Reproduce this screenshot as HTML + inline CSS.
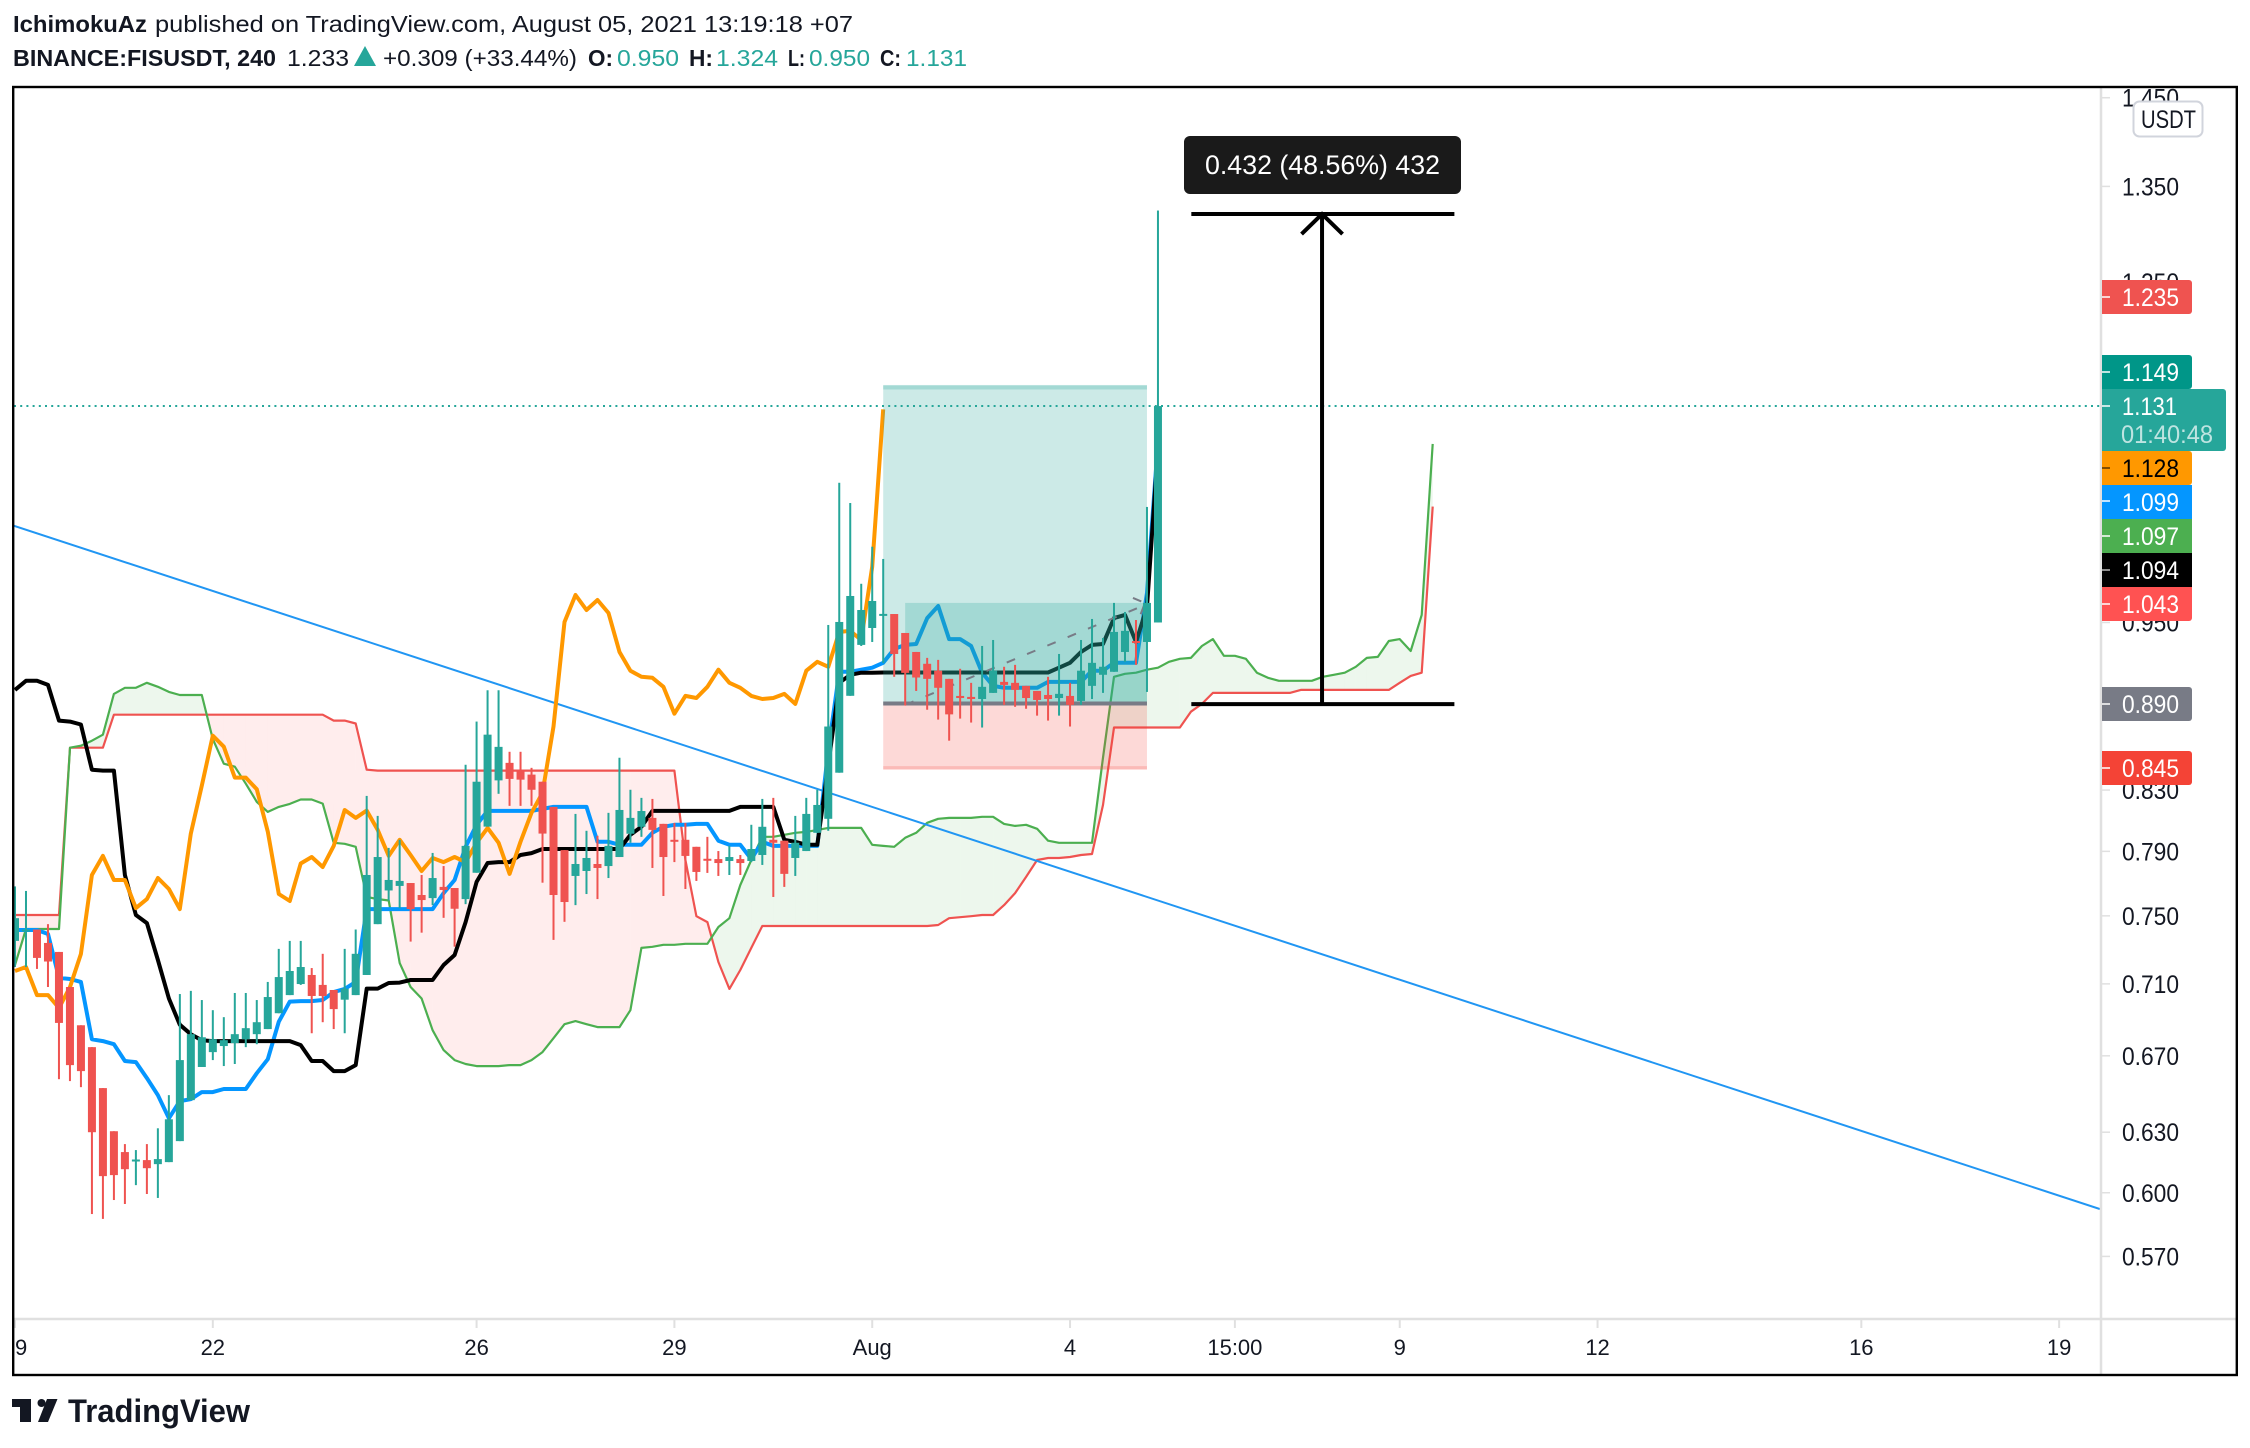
<!DOCTYPE html>
<html lang="en">
<head>
<meta charset="utf-8">
<title>BINANCE:FISUSDT 240 chart</title>
<style>
html,body{margin:0;padding:0;background:#fff;width:2250px;height:1448px;overflow:hidden}
svg{display:block;font-family:"Liberation Sans",sans-serif}
</style>
</head>
<body>
<svg id="root" xmlns="http://www.w3.org/2000/svg" width="2250" height="1448" viewBox="0 0 2250 1448">
<defs><clipPath id="plot-clip"><rect x="14" y="88" width="2086" height="1231"/></clipPath></defs>
<rect x="0" y="0" width="2250" height="1448" fill="#fff"/>

<g font-size="23" fill="#131722">
<text x="13" y="32" font-weight="bold" textLength="134" lengthAdjust="spacingAndGlyphs">IchimokuAz</text>
<text x="155" y="32" textLength="698" lengthAdjust="spacingAndGlyphs">published on TradingView.com, August 05, 2021 13:19:18 +07</text>
</g>
<g font-size="23" fill="#131722">
<text x="13" y="66" font-weight="bold" textLength="263" lengthAdjust="spacingAndGlyphs">BINANCE:FISUSDT, 240</text>
<text x="287" y="66" textLength="62" lengthAdjust="spacingAndGlyphs">1.233</text>
<polygon points="354,66 365,46 376,66" fill="#26a69a"/>
<text x="383" y="66" textLength="194" lengthAdjust="spacingAndGlyphs">+0.309 (+33.44%)</text>
<text x="588" y="66" font-weight="bold" textLength="25" lengthAdjust="spacingAndGlyphs">O:</text>
<text x="617" y="66" fill="#26a69a" textLength="62" lengthAdjust="spacingAndGlyphs">0.950</text>
<text x="689" y="66" font-weight="bold" textLength="24" lengthAdjust="spacingAndGlyphs">H:</text>
<text x="716" y="66" fill="#26a69a" textLength="62" lengthAdjust="spacingAndGlyphs">1.324</text>
<text x="788" y="66" font-weight="bold" textLength="17" lengthAdjust="spacingAndGlyphs">L:</text>
<text x="809" y="66" fill="#26a69a" textLength="61" lengthAdjust="spacingAndGlyphs">0.950</text>
<text x="880" y="66" font-weight="bold" textLength="21" lengthAdjust="spacingAndGlyphs">C:</text>
<text x="906" y="66" fill="#26a69a" textLength="61" lengthAdjust="spacingAndGlyphs">1.131</text>
</g>

<g id="plot" clip-path="url(#plot-clip)"></g>

<line x1="2101" y1="88" x2="2101" y2="1374" stroke="#e0e0e0" stroke-width="2.5"/>
<line x1="14" y1="1319" x2="2236" y2="1319" stroke="#e0e0e0" stroke-width="2.5"/>
<g id="price-axis"></g>
<g id="time-axis"></g>

<g font-size="25" fill="#fff">
<g><path d="M2102 280h87a3 3 0 0 1 3 3v28a3 3 0 0 1-3 3h-87z" fill="#ef5350"/><line x1="2102" y1="297" x2="2110" y2="297" stroke="#fff" stroke-width="1.5"/><text x="2122" y="306" textLength="57" lengthAdjust="spacingAndGlyphs">1.235</text></g>
<g><path d="M2102 355h87a3 3 0 0 1 3 3v28a3 3 0 0 1-3 3h-87z" fill="#009688"/><line x1="2102" y1="372" x2="2110" y2="372" stroke="#fff" stroke-width="1.5"/><text x="2122" y="381" textLength="57" lengthAdjust="spacingAndGlyphs">1.149</text></g>
<g><path d="M2102 389h121a3 3 0 0 1 3 3v56a3 3 0 0 1-3 3h-121z" fill="#26a69a"/><line x1="2102" y1="406" x2="2110" y2="406" stroke="#fff" stroke-width="1.5"/><text x="2122" y="415" textLength="55" lengthAdjust="spacingAndGlyphs">1.131</text><text x="2121" y="443" fill="#fff" fill-opacity="0.7" textLength="92" lengthAdjust="spacingAndGlyphs">01:40:48</text></g>
<g><path d="M2102 451h87a3 3 0 0 1 3 3v28a3 3 0 0 1-3 3h-87z" fill="#ff9800"/><line x1="2102" y1="468" x2="2110" y2="468" stroke="#5a3600" stroke-width="1.5"/><text x="2122" y="477" fill="#000" textLength="57" lengthAdjust="spacingAndGlyphs">1.128</text></g>
<g><rect x="2102" y="485" width="90" height="34" fill="#0496ff"/><line x1="2102" y1="501" x2="2110" y2="501" stroke="#fff" stroke-width="1.5"/><text x="2122" y="511" textLength="57" lengthAdjust="spacingAndGlyphs">1.099</text></g>
<g><rect x="2102" y="519" width="90" height="34" fill="#4caf50"/><line x1="2102" y1="536" x2="2110" y2="536" stroke="#fff" stroke-width="1.5"/><text x="2122" y="545" textLength="57" lengthAdjust="spacingAndGlyphs">1.097</text></g>
<g><rect x="2102" y="553" width="90" height="34" fill="#000"/><line x1="2102" y1="570" x2="2110" y2="570" stroke="#bbb" stroke-width="1.5"/><text x="2122" y="579" textLength="57" lengthAdjust="spacingAndGlyphs">1.094</text></g>
<g><path d="M2102 587h90v31a3 3 0 0 1-3 3h-87z" fill="#ff5252"/><line x1="2102" y1="604" x2="2110" y2="604" stroke="#fff" stroke-width="1.5"/><text x="2122" y="613" textLength="57" lengthAdjust="spacingAndGlyphs">1.043</text></g>
<g><path d="M2102 687h87a3 3 0 0 1 3 3v28a3 3 0 0 1-3 3h-87z" fill="#787b86"/><line x1="2102" y1="704" x2="2110" y2="704" stroke="#fff" stroke-width="1.5"/><text x="2122" y="713" textLength="57" lengthAdjust="spacingAndGlyphs">0.890</text></g>
<g><path d="M2102 751h87a3 3 0 0 1 3 3v28a3 3 0 0 1-3 3h-87z" fill="#f44336"/><line x1="2102" y1="768" x2="2110" y2="768" stroke="#fff" stroke-width="1.5"/><text x="2122" y="777" textLength="57" lengthAdjust="spacingAndGlyphs">0.845</text></g>
</g>

<g>
<rect x="2133.5" y="101.5" width="69" height="35" rx="6" fill="#fff" stroke="#d1d4dc" stroke-width="2"/>
<text x="2141" y="128" font-size="25" fill="#131722" textLength="55" lengthAdjust="spacingAndGlyphs">USDT</text>
</g>

<g>
<rect x="1184" y="136" width="277" height="58" rx="6" fill="#1a1a1a"/>
<text x="1205" y="174" font-size="27" fill="#fff" textLength="235" lengthAdjust="spacingAndGlyphs">0.432 (48.56%) 432</text>
</g>

<rect x="13.2" y="87" width="2223.6" height="1288" fill="none" stroke="#000" stroke-width="2.4"/>

<g fill="#131722">
<path d="M12 1399h19v23h-11v-15h-8z"/>
<circle cx="41.5" cy="1403" r="4"/>
<polygon points="47,1399 57.5,1399 48,1422 38,1422"/>
<text x="68" y="1422" font-size="32" font-weight="bold" textLength="182" lengthAdjust="spacingAndGlyphs">TradingView</text>
</g>
</svg>

<script>
const opens = [
.7350,.7412,.7418,.7338,.7285,.7082,.6867,.6747,.6528,.6305,
.6200,.6153,.6160,.6140,.6150,.6255,.6465,.6640,.6720,.6753,
.6769,.6790,.6818,.6846,.6934,.7036,.7099,.7151,.7094,.7065,
.7010,.7036,.7151,.7450,.7655,.7683,.7701,.7627,.7608,.7677,
.7670,.7602,.7765,.8059,.8365,.8484,.8430,.8404,.8356,.8188,
.7908,.7745,.7776,.7820,.7807,.7864,.8013,.8058,.8116,.8077,
.7974,.7974,.7929,.7853,.7851,.7839,.7851,.7839,.7877,.7974,
.7968,.7858,.7902,.8019,.8110,.8417,.8955,.9330,.9458,.9558,
.9565,.9420,.9277,.9189,.9138,.9078,.8954,.8947,.8932,.8976,
.9056,.9049,.9027,.8990,.8961,.8939,.8954,.8918,.9027,.9108,.9130,.9277,.9359,.9352,.950];
const highs = [
.7680,.7652,.7418,.7450,.7285,.7082,.6867,.6747,.6528,.6305,
.6240,.6210,.6240,.6320,.6491,.7042,.7060,.7008,.6951,.6912,
.7048,.7048,.7008,.7111,.7303,.7350,.7350,.7191,.7274,.7065,
.7303,.7418,.8261,.8129,.7922,.7974,.7701,.7751,.7890,.7807,
.7670,.8471,.8771,.8995,.8995,.8560,.8560,.8450,.8356,.8188,
.7908,.8142,.8032,.8000,.8149,.8519,.8302,.8248,.8241,.8077,
.8083,.8083,.7929,.7993,.7902,.7935,.7877,.8071,.8241,.8248,
.7968,.8129,.8248,.8302,.9481,1.0632,1.0460,.9801,1.0098,.9999,
.9565,.9420,.9277,.9233,.9218,.9078,.9152,.9049,.9322,.9367,
.9167,.9181,.9027,.8990,.9093,.9262,.9049,.9367,.9527,.9382,.9651,.9581,.9519,1.0427,1.324];
const lows = [
.7197,.7197,.7186,.7082,.6575,.6565,.6533,.5898,.5875,.5965,
.5946,.6037,.5994,.5975,.6150,.6255,.6465,.6640,.6677,.6645,
.6656,.6747,.6763,.6846,.6934,.7036,.7094,.6823,.6884,.6846,
.6823,.7036,.7151,.7450,.7593,.7547,.7346,.7399,.7565,.7488,
.7316,.7571,.7765,.8059,.8275,.8195,.8195,.8195,.7703,.7356,
.7464,.7565,.7633,.7602,.7732,.7864,.7955,.7993,.7795,.7621,
.7832,.7664,.7714,.7764,.7745,.7751,.7751,.7832,.7814,.7615,
.7677,.7745,.7902,.8019,.8032,.8417,.8955,.9322,.9352,.9196,
.9093,.8885,.8990,.8855,.8785,.8637,.8792,.8764,.8729,.8976,
.8890,.8876,.8862,.8813,.8778,.8813,.8736,.8890,.8932,.8976,.9130,.9204,.9181,.8983,.950];
const closes = [
.7486,.7418,.7250,.7229,.6880,.6650,.6618,.6300,.6081,.6086,
.6115,.6163,.6120,.6165,.6366,.6677,.6818,.6801,.6790,.6785,
.6818,.6851,.6884,.7025,.7139,.7174,.7197,.7031,.7031,.6957,
.7073,.7274,.7751,.7864,.7720,.7714,.7541,.7596,.7732,.7658,
.7543,.7935,.8356,.8679,.8594,.8375,.8370,.8302,.8014,.7627,
.7584,.7820,.7858,.7795,.7935,.8168,.8116,.8161,.8038,.7864,
.7968,.7871,.7770,.7845,.7826,.7864,.7826,.7915,.8058,.7955,
.7758,.7955,.8142,.8201,.8736,.9504,.9705,.9596,.9666,.9566,
.9262,.9122,.9088,.9078,.9013,.8822,.8939,.8932,.9020,.9138,
.9034,.8998,.8939,.8925,.8932,.8969,.8890,.9138,.9196,.9167,.9428,.9436,.9345,.9651,1.131];
const conversionLine = [
.7415,.7415,.7415,.7391,.7134,.7128,.7111,.6790,.6780,.6763,
.6672,.6666,.6581,.6491,.6371,.6460,.6470,.6507,.6507,.6523,
.6523,.6523,.6607,.6682,.6887,.6999,.7002,.7002,.7008,.7053,
.7071,.7111,.7541,.7541,.7541,.7541,.7541,.7541,.7541,.7639,
.7720,.7929,.8071,.8162,.8162,.8162,.8162,.8162,.8175,.8188,
.8188,.8188,.8188,.7961,.7961,.7942,.7942,.7942,.8019,.8058,
.8071,.8071,.8077,.8077,.7968,.7942,.7942,.7851,.7961,.7935,
.7935,.7935,.7935,.7935,.8572,.9130,.9130,.9145,.9160,.9196,
.9299,.9330,.9337,.9534,.9627,.9374,.9374,.9322,.9123,.9027,
.9013,.9013,.9013,.9013,.9056,.9056,.9056,.9056,.9138,.9138,
.9196,.9196,.9196,.9729,1.099];
const baseLine = [
.8998,.9064,.9064,.9034,.8778,.8771,.8750,.8437,.8431,.8431,
.7751,.7505,.7456,.7238,.7017,.6870,.6818,.6785,.6780,.6780,
.6780,.6780,.6780,.6780,.6780,.6780,.6758,.6672,.6672,.6618,
.6618,.6650,.7073,.7073,.7105,.7107,.7122,.7122,.7122,.7209,
.7267,.7462,.7708,.7826,.7832,.7832,.7877,.7889,.7915,.7915,
.7915,.7915,.7915,.7915,.7915,.7915,.8006,.8058,.8162,.8162,
.8162,.8162,.8162,.8162,.8162,.8162,.8188,.8188,.8188,.8188,
.7974,.7961,.7942,.7942,.8471,.9049,.9108,.9123,.9123,.9125,
.9125,.9125,.9125,.9125,.9125,.9125,.9125,.9125,.9125,.9125,
.9125,.9125,.9125,.9125,.9125,.9160,.9196,.9277,.9330,.9337,
.9534,.9558,.9352,.9619,1.094];
const laggingSpan = [
.7174,.7197,.7036,.7036,.6963,.7082,.7273,.7751,.7871,.7720,
.7720,.7547,.7602,.7732,.7664,.7541,.8013,.8329,.8672,.8595,
.8384,.8384,.8305,.8026,.7633,.7590,.7823,.7864,.7801,.7935,
.8168,.8116,.8164,.8038,.7871,.7974,.7877,.7776,.7858,.7832,
.7864,.7832,.7955,.8051,.7955,.7758,.7961,.8149,.8282,.8736,
.9504,.9713,.9596,.9674,.9573,.9277,.9138,.9093,.9086,.9020,
.8827,.8954,.8939,.9020,.9145,.9049,.9013,.8954,.8932,.8939,
.8969,.8897,.9138,.9204,.9167,.9428,.9436,.9367,.9936,1.128];
const leadA = [
.7209,.7421,.7421,.7421,.7421,.8588,.8602,.8637,.8679,.8969,
.9013,.9013,.9049,.9020,.8983,.8961,.8961,.8961,.8648,.8478,
.8458,.8343,.8221,.8155,.8188,.8208,.8237,.8237,.8210,.7955,
.7948,.7929,.7615,.7602,.7593,.7220,.7082,.7017,.6840,.6731,
.6677,.6656,.6645,.6645,.6645,.6650,.6650,.6677,.6720,.6796,
.6873,.6890,.6873,.6857,.6857,.6857,.6951,.7309,.7315,.7327,
.7327,.7333,.7333,.7333,.7433,.7486,.7689,.7845,.7993,.7993,
.8006,.8019,.8025,.8038,.8051,.8051,.8051,.8051,.7942,.7935,
.7929,.7987,.8019,.8084,.8110,.8116,.8116,.8116,.8123,.8123,
.8077,.8064,.8071,.8045,.7968,.7955,.7955,.7955,.7955,.8519,
.9093,.9115,.9123,.9145,.9160,.9204,.9226,.9233,.9322,.9374,
.9248,.9248,.9226,.9123,.9086,.9064,.9064,.9064,.9064,.9093,
.9108,.9123,.9167,.9233,.9240,.9359,.9374,.9284,.9558,1.097];
const leadB = [
.7505,.7505,.7505,.7505,.7505,.8588,.8588,.8588,.8588,.8820,
.8820,.8820,.8820,.8820,.8820,.8820,.8820,.8820,.8820,.8820,
.8820,.8820,.8820,.8820,.8820,.8820,.8820,.8820,.8820,.8778,
.8778,.8757,.8437,.8431,.8431,.8431,.8431,.8431,.8431,.8431,
.8431,.8431,.8431,.8431,.8431,.8431,.8431,.8431,.8431,.8431,
.8431,.8431,.8431,.8431,.8431,.8431,.8431,.8431,.8431,.8431,
.8431,.7845,.7498,.7462,.7226,.7071,.7180,.7309,.7439,.7439,
.7439,.7439,.7439,.7439,.7439,.7439,.7439,.7439,.7439,.7439,
.7439,.7439,.7439,.7439,.7445,.7486,.7492,.7498,.7505,.7505,
.7565,.7639,.7739,.7845,.7858,.7858,.7864,.7877,.7883,.8201,
.8729,.8729,.8729,.8729,.8729,.8729,.8729,.8841,.8897,.8976,
.8976,.8976,.8976,.8976,.8976,.8976,.8976,.8998,.8998,.8998,
.8998,.8998,.8998,.8998,.8998,.8998,.9049,.9100,.9123,1.043];
const priceTicks = [1.45,1.35,1.25,0.95,0.83,0.79,0.75,0.71,0.67,0.63,0.60,0.57];
const timeTickBars = [0,18,42,60,78,96,111,126,144,168,186];
const timeTickLabels = ["9","22","26","29","Aug","4","15:00","9","12","16","19"];
const trendBars = [-0.18,189.7];
const trendPrices = [1.0272,0.5922];
const lastClose = 1.131;
const positionBars = [79,103];
const positionEntry = 0.890;
const positionTarget = 1.149;
const positionStop = 0.845;
const projectionBars = [81,103];
const projectionPrices = [0.8890,0.9635];
const measureBars = [107,118.93,131];
const measurePrices = [0.8895,1.3203];

const SVGNS = "http://www.w3.org/2000/svg";
const xOf = i => 15 + 10.99 * i;
const yOf = p => 186.4 + 1241 * Math.log(1.35 / p);
const mk = (parent, tag, attrs) => {
  const e = document.createElementNS(SVGNS, tag);
  for (const k in attrs) e.setAttribute(k, attrs[k]);
  parent.appendChild(e);
  return e;
};
const plot = document.getElementById("plot");
const pts = arr => arr.map((p, i) => xOf(i).toFixed(1) + "," + yOf(p).toFixed(1)).join(" ");

/* cloud */
const cloud = mk(plot, "g", {});


const GREENFILL = "rgba(76,175,80,0.1)", REDFILL = "rgba(255,82,82,0.1)";
for (let i = 0; i < leadA.length - 1; i++) {
  const x0 = xOf(i), x1 = xOf(i + 1);
  const a0 = yOf(leadA[i]), a1 = yOf(leadA[i + 1]), b0 = yOf(leadB[i]), b1 = yOf(leadB[i + 1]);
  const d0 = b0 - a0, d1 = b1 - a1;
  if (d0 * d1 >= 0) {
    const seg = mk(cloud, "polygon", {points: `${x0},${a0} ${x1},${a1} ${x1},${b1} ${x0},${b0}`, fill: (d0 + d1) >= 0 ? GREENFILL : REDFILL});
    
    
  } else {
    const t = d0 / (d0 - d1), xc = x0 + t * (x1 - x0), yc = a0 + t * (a1 - a0);
    const s1 = mk(cloud, "polygon", {points: `${x0},${a0} ${xc},${yc} ${x0},${b0}`, fill: d0 > 0 ? GREENFILL : REDFILL});
    
    
    const s2 = mk(cloud, "polygon", {points: `${xc},${yc} ${x1},${a1} ${x1},${b1}`, fill: d1 > 0 ? GREENFILL : REDFILL});
    
    
  }
}

/* lines */
const leadBLine = mk(plot, "polyline", {points: pts(leadB), fill: "none", stroke: "#ef5350", "stroke-width": 2.2, "stroke-linejoin": "round"});


const leadALine = mk(plot, "polyline", {points: pts(leadA), fill: "none", stroke: "#4caf50", "stroke-width": 2.2, "stroke-linejoin": "round"});


const trend = mk(plot, "line", {x1: xOf(trendBars[0]), y1: yOf(trendPrices[0]), x2: xOf(trendBars[1]), y2: yOf(trendPrices[1]), stroke: "#2196f3", "stroke-width": 2});


const convLine = mk(plot, "polyline", {points: pts(conversionLine), fill: "none", stroke: "#0496ff", "stroke-width": 4, "stroke-linejoin": "round"});


const bLine = mk(plot, "polyline", {points: pts(baseLine), fill: "none", stroke: "#000", "stroke-width": 4, "stroke-linejoin": "round"});


const lagLine = mk(plot, "polyline", {points: pts(laggingSpan), fill: "none", stroke: "#ff9800", "stroke-width": 4, "stroke-linejoin": "round"});



/* current price line */
const lastLine = mk(plot, "line", {x1: 14, x2: 2100, y1: yOf(lastClose), y2: yOf(lastClose), stroke: "#26a69a", "stroke-width": 2, "stroke-dasharray": "2 4.2"});



/* long position tool */
const pos = mk(plot, "g", {});


const pL = xOf(positionBars[0]), pR = xOf(positionBars[1]), pW = pR - pL;
const profit = mk(pos, "rect", {x: pL, y: yOf(positionTarget) - 1.5, width: pW, height: yOf(positionEntry) - yOf(positionTarget) + 1.5, fill: "rgba(38,166,154,0.235)"});


const loss = mk(pos, "rect", {x: pL, y: yOf(positionEntry), width: pW, height: yOf(positionStop) - yOf(positionEntry) + 1.5, fill: "rgba(244,67,54,0.2)"});


const tLine = mk(pos, "line", {x1: pL, x2: pR, y1: yOf(positionTarget) + 1, y2: yOf(positionTarget) + 1, stroke: "rgba(38,166,154,0.25)", "stroke-width": 4});


const sLine = mk(pos, "line", {x1: pL, x2: pR, y1: yOf(positionStop), y2: yOf(positionStop), stroke: "rgba(244,67,54,0.2)", "stroke-width": 3.5});


const inner = mk(pos, "rect", {x: xOf(projectionBars[0]), y: yOf(0.9651), width: xOf(projectionBars[1]) - xOf(projectionBars[0]), height: yOf(positionEntry) - yOf(0.9651), fill: "rgba(38,166,154,0.25)"});


const eLine = mk(pos, "line", {x1: pL, x2: pR, y1: yOf(positionEntry), y2: yOf(positionEntry), stroke: "#787b86", "stroke-width": 4});


const projX1 = xOf(projectionBars[1]) - 2, projY1 = yOf(projectionPrices[1]);
const proj = mk(pos, "line", {x1: xOf(projectionBars[0]), y1: yOf(projectionPrices[0]), x2: projX1, y2: projY1, stroke: "#787b86", "stroke-width": 2, "stroke-dasharray": "9 13"});


const projHead = mk(pos, "polyline", {points: `${projX1 - 12},${projY1 - 7} ${projX1},${projY1 - 2} ${projX1 - 5},${projY1 + 11}`, fill: "none", stroke: "#787b86", "stroke-width": 2, "stroke-dasharray": "9 7"});



/* candles */
const candles = mk(plot, "g", {});


for (let i = 0; i < closes.length; i++) {
  const up = closes[i] >= opens[i];
  const col = up ? "#26a69a" : "#ef5350";
  const x = xOf(i);
  const wick = mk(candles, "rect", {x: x - 1, y: yOf(highs[i]), width: 2, height: Math.max(1, yOf(lows[i]) - yOf(highs[i])), fill: col});
  
  
  const top = yOf(Math.max(opens[i], closes[i])), bot = yOf(Math.min(opens[i], closes[i]));
  const body = mk(candles, "rect", {x: x - 4, y: top, width: 8, height: Math.max(2, bot - top), fill: col});
  
  
}

/* measure drawing */
const meas = mk(plot, "g", {stroke: "#000", "stroke-width": 4, fill: "none"});


const mL = xOf(measureBars[0]) + 0.4, mM = xOf(measureBars[1]), mR = xOf(measureBars[2]) - 0.3;
const mTop = yOf(measurePrices[1]), mBot = yOf(measurePrices[0]);
const mt = mk(meas, "line", {x1: mL, x2: mR, y1: mTop, y2: mTop});


const mb = mk(meas, "line", {x1: mL, x2: mR, y1: mBot, y2: mBot});


const mv = mk(meas, "line", {x1: mM, x2: mM, y1: mTop, y2: mBot});


const mh = mk(meas, "polyline", {points: `${mM - 20.5},${mTop + 20} ${mM},${mTop} ${mM + 20.5},${mTop + 20}`});



/* price axis */
const pAxis = document.getElementById("price-axis");
priceTicks.forEach(p => {
  const y = yOf(p);
  const tick = mk(pAxis, "line", {x1: 2102, x2: 2110, y1: y, y2: y, stroke: "#e0e0e0", "stroke-width": 1.5});
  
  
  const t = mk(pAxis, "text", {x: 2122, y: y + 9, "font-size": 25, fill: "#131722", textLength: 57, lengthAdjust: "spacingAndGlyphs"});
  
  
  t.textContent = p.toFixed(3);
});

/* time axis */
const tAxis = document.getElementById("time-axis");
timeTickBars.forEach((b, k) => {
  const x = xOf(b);
  const tick = mk(tAxis, "line", {x1: x, x2: x, y1: 1320, y2: 1328, stroke: "#e0e0e0", "stroke-width": 2});
  
  
  const t = mk(tAxis, "text", {x: k === 0 ? x : x, y: 1355, "font-size": 22, fill: "#131722", "text-anchor": k === 0 ? "start" : "middle"});
  
  
  t.textContent = timeTickLabels[k];
});
</script>
</body>
</html>
